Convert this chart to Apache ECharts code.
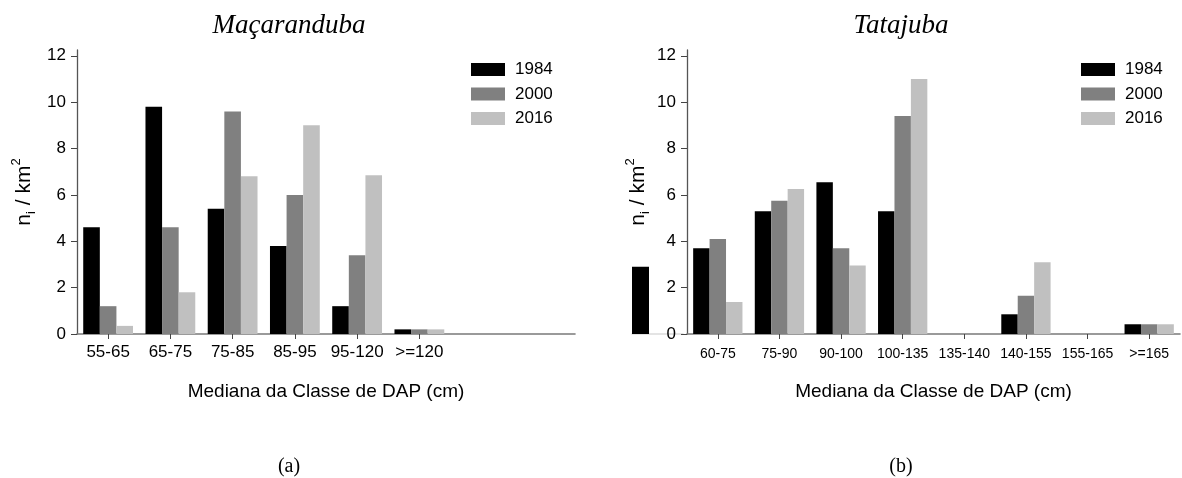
<!DOCTYPE html>
<html><head><meta charset="utf-8">
<script src="https://cdn.jsdelivr.net/npm/echarts@6/dist/echarts.min.js"></script>
<style>html,body{margin:0;padding:0;background:#fff}#c{width:1182px;height:478px}</style>
</head><body><div id="c"></div>
<script>
const catsA = ['55-65','65-75','75-85','85-95','95-120','>=120','',''];
const a1984 = [4.6, 9.8, 5.4, 3.8, 1.2, 0.2, null, null];
const a2000 = [1.2, 4.6, 9.6, 6.0, 3.4, 0.2, null, null];
const a2016 = [0.35, 1.8, 6.8, 9.0, 6.85, 0.2, null, null];
const catsB = ['60-75','75-90','90-100','100-135','135-140','140-155','155-165','>=165'];
const b1984 = [3.7, 5.3, 6.55, 5.3, 0, 0.85, 0, 0.42];
const b2000 = [4.1, 5.75, 3.7, 9.4, 0, 1.65, 0, 0.42];
const b2016 = [1.38, 6.25, 2.95, 11.0, 0, 3.1, 0, 0.42];
const yTicks = [0, 2, 4, 6, 8, 10, 12];
const years = ['1984', '2000', '2016'];
const strayCats = ['', '', ''];
const strayBar = [2.9, null, null];
const colors = ['#000000', '#808080', '#c0c0c0'];

const SANS = "'Liberation Sans', Arial, sans-serif";
const YMAX = 12.25;

const chart = echarts.init(document.getElementById('c'), null, {renderer: 'canvas'});

function yAxisCfg(grid, gap) {
  return {
    type: 'value', gridIndex: grid, min: 0, max: YMAX,
    axisLine: {show: true, lineStyle: {color: '#555', width: 1.3}},
    axisTick: {show: true, length: 6, customValues: yTicks, lineStyle: {color: '#444'}},
    axisLabel: {customValues: yTicks, fontSize: 17, fontFamily: SANS, color: '#000', margin: 11},
    splitLine: {show: false},
    name: '{n|n}{sub|i}{n| / km}{sup|2}',
    nameLocation: 'middle', nameRotate: 90, nameGap: gap,
    nameTextStyle: {
      fontFamily: SANS, fontSize: 21, color: '#000',
      rich: {
        n: {fontFamily: SANS, fontSize: 21, color: '#000', lineHeight: 28, verticalAlign: 'middle'},
        sub: {fontFamily: SANS, fontSize: 13, color: '#000', lineHeight: 28, verticalAlign: 'bottom'},
        sup: {fontFamily: SANS, fontSize: 13, color: '#000', lineHeight: 28, verticalAlign: 'top'}
      }
    }
  };
}

function xAxisCfg(grid, cats, fs, margin) {
  return {
    type: 'category', gridIndex: grid, data: cats,
    axisLine: {show: true, lineStyle: {color: '#7a7a7a', width: 1.6}},
    axisTick: {show: true, alignWithLabel: true, length: 5, lineStyle: {color: '#444'},
      interval: function (i, v) { return v !== ''; }},
    axisLabel: {interval: 0, fontSize: fs, fontFamily: SANS, color: '#000', margin: margin},
    splitLine: {show: false},
    name: 'Mediana da Classe de DAP (cm)', nameLocation: 'middle', nameGap: 48,
    nameTextStyle: {fontFamily: SANS, fontSize: 19, color: '#000'}
  };
}

function barSeries(name, data, xi, color) {
  return {
    type: 'bar', name: name, data: data, xAxisIndex: xi, yAxisIndex: xi,
    barGap: '0%', barCategoryGap: '20%',
    itemStyle: {color: color}, emphasis: {disabled: true}, animation: false
  };
}

function legendCfg(left) {
  return {
    orient: 'vertical', left: left, top: 56, data: years,
    icon: 'rect', itemWidth: 34, itemHeight: 13, itemGap: 7.5,
    selectedMode: false,
    textStyle: {fontFamily: SANS, fontSize: 17, color: '#000', lineHeight: 17, padding: [0, 0, 0, 5]}
  };
}

chart.setOption({
  animation: false,
  backgroundColor: '#fff',
  grid: [
    {left: 77, top: 50, width: 498, height: 284},
    {left: 687, top: 50, width: 493, height: 284},
    {left: 632, top: 50, width: 51, height: 284}
  ],
  xAxis: [
    xAxisCfg(0, catsA, 17, 10),
    xAxisCfg(1, catsB, 14, 13),
    {type: 'category', gridIndex: 2, data: strayCats,
     axisLine: {show: true, lineStyle: {color: '#dcdcdc', width: 1.5}},
     axisTick: {show: false}, axisLabel: {show: false}, splitLine: {show: false}}
  ],
  yAxis: [
    yAxisCfg(0, 39),
    yAxisCfg(1, 35),
    {type: 'value', gridIndex: 2, min: 0, max: YMAX, show: false}
  ],
  legend: [legendCfg(466), legendCfg(1076)],
  series: [
    barSeries(years[0], a1984, 0, colors[0]),
    barSeries(years[1], a2000, 0, colors[1]),
    barSeries(years[2], a2016, 0, colors[2]),
    barSeries(years[0], b1984, 1, colors[0]),
    barSeries(years[1], b2000, 1, colors[1]),
    barSeries(years[2], b2016, 1, colors[2]),
    {type: 'bar', name: 'stray', data: strayBar, xAxisIndex: 2, yAxisIndex: 2,
     barCategoryGap: '0%', itemStyle: {color: '#000'}, emphasis: {disabled: true}}
  ],
  graphic: [
    {type: 'text', x: 289, y: 26, style: {text: 'Maçaranduba', align: 'center', verticalAlign: 'middle',
      font: "italic 27px 'Liberation Serif', 'Times New Roman', serif", fill: '#000'}},
    {type: 'text', x: 901, y: 26, style: {text: 'Tatajuba', align: 'center', verticalAlign: 'middle',
      font: "italic 27px 'Liberation Serif', 'Times New Roman', serif", fill: '#000'}},
    {type: 'text', x: 289, y: 467, style: {text: '(a)', align: 'center', verticalAlign: 'middle',
      font: "20px 'Liberation Serif', 'Times New Roman', serif", fill: '#000'}},
    {type: 'text', x: 901, y: 467, style: {text: '(b)', align: 'center', verticalAlign: 'middle',
      font: "20px 'Liberation Serif', 'Times New Roman', serif", fill: '#000'}}
  ]
});
</script>
</body></html>
